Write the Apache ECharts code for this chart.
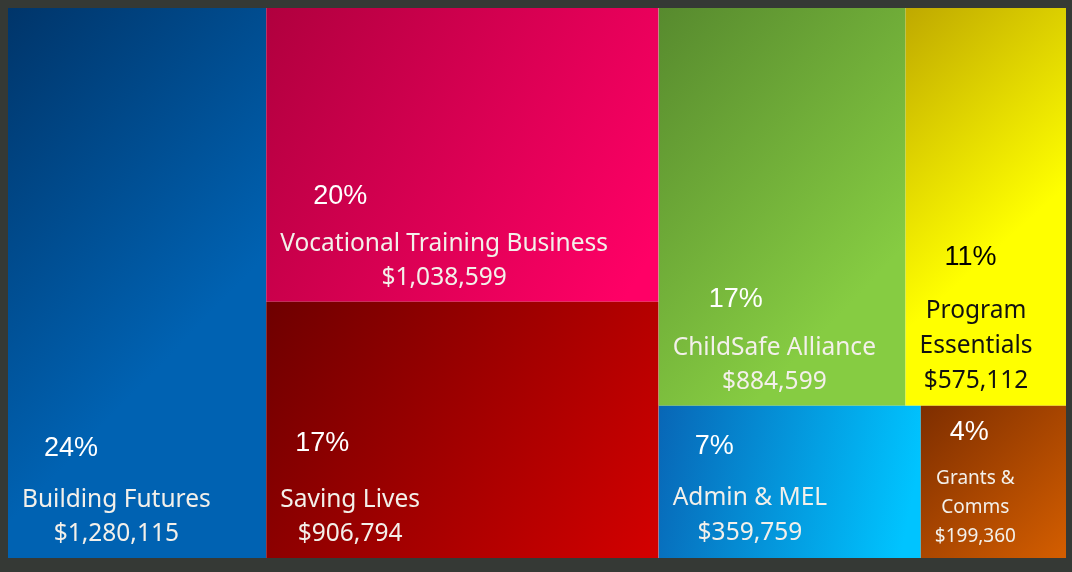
<!DOCTYPE html>
<html><head><meta charset="utf-8">
<script src="https://cdn.jsdelivr.net/npm/echarts@6/dist/echarts.min.js"></script>
<style>html,body{margin:0;padding:0;background:#353935;}#c{width:1072px;height:572px;}</style>
</head><body><div id="c"></div>
<script>
// ---- data ----
const categories = ['Building Futures', 'Vocational Training Business', 'Saving Lives', 'ChildSafe Alliance', 'Program Essentials', 'Admin & MEL', 'Grants & Comms'];
const amounts = [1280115, 1038599, 906794, 884599, 575112, 359759, 199360];
const shareLabels = ['24%', '20%', '17%', '17%', '11%', '7%', '4%'];

// layout grouping (indices into categories)
const blockLeft = [0];
const blockMiddle = [1, 2];
const blockRightTop = [3, 4];
const blockRightBottom = [5, 6];

// ---- styles ----
const fills = [
  ['#00356a', '#0062b2', 1, 0.45],
  ['#b0003e', '#ff0066', 1, 0.8],
  ['#6e0000', '#d40000', 1, 1],
  ['#578a2e', '#86cc42', 1, 0.6],
  ['#bfa900', '#ffff00', 1, 0.45],
  ['#0866b6', '#00c4ff', 1, 0.35],
  ['#7e2e00', '#d45e00', 1, 1]
];
const nameColors = ['#f3f0ea', '#f3f0ea', '#f3f0ea', '#f3f0ea', '#111111', '#f3f0ea', '#f3f0ea'];
const pctColors = ['#ffffff', '#ffffff', '#ffffff', '#ffffff', '#000000', '#ffffff', '#ffffff'];
const nameSizes = [24.5, 24.5, 24.5, 24.5, 24.5, 24.5, 19];
const nameLineHeights = [34, 34, 34, 34, 35, 35, 29];
const wrapAfterWords = [0, 0, 0, 0, 1, 0, 2];
const pctIndent = [22, 33, 15, 36, 25, 22, 15];
const pctLineHeights = [68, 60, 78, 62, 72, 68, 62];
const PCT_SIZE = 27;
const LABEL_DISTANCE = 6;
const LEFT_PAD = 8;
const NAME_FONT = 'Noto Sans';
const PCT_FONT = 'Liberation Sans';

const measureCtx = document.createElement('canvas').getContext('2d');
function textWidth(s, size, fam) {
  measureCtx.font = size + 'px "' + fam + '"';
  return measureCtx.measureText(s).width;
}

function leaf(i, rectHeights) {
  const words = categories[i].split(' ');
  const lines = wrapAfterWords[i] ? [words.slice(0, wrapAfterWords[i]).join(' '), words.slice(wrapAfterWords[i]).join(' ')] : [categories[i]];
  const valueText = '$' + amounts[i].toLocaleString('en-US');
  const allLines = lines.concat([valueText]);
  const widths = allLines.map(s => textWidth(s, nameSizes[i], NAME_FONT));
  const blockW = Math.max.apply(null, widths);
  const blockH = pctLineHeights[i] + nameLineHeights[i] * allLines.length;
  const rich = {
    p: { fontFamily: PCT_FONT, fontSize: PCT_SIZE, color: pctColors[i], lineHeight: pctLineHeights[i], align: 'left', padding: [0, 0, 0, pctIndent[i]] }
  };
  const parts = ['{p|' + shareLabels[i] + '}'];
  allLines.forEach((s, k) => {
    rich['t' + k] = {
      fontFamily: NAME_FONT, fontSize: nameSizes[i], color: nameColors[i],
      lineHeight: nameLineHeights[i], align: 'left',
      padding: [0, 0, 0, (blockW - widths[k]) / 2]
    };
    parts.push('{t' + k + '|' + s + '}');
  });
  const f = fills[i];
  const rh = rectHeights && rectHeights[categories[i]];
  const padTop = rh ? Math.max(0, rh - blockH - 1) : 0;
  return {
    name: categories[i],
    value: amounts[i],
    itemStyle: {
      color: { type: 'linear', x: 0, y: 0, x2: f[2], y2: f[3], colorStops: [{ offset: 0, color: f[0] }, { offset: 1, color: f[1] }] },
      borderWidth: 0
    },
    label: {
      show: true,
      position: 'insideBottomLeft',
      distance: LABEL_DISTANCE,
      padding: [padTop, 0, 0, LEFT_PAD],
      formatter: parts.join('\n'),
      rich: rich
    }
  };
}

function buildTree(rectHeights) {
  const L = i => leaf(i, rectHeights);
  return [
    { name: 'left', children: blockLeft.map(L) },
    { name: 'middle', children: blockMiddle.map(L) },
    { name: 'right', children: [
      { name: 'rightTop', children: blockRightTop.map(L) },
      { name: 'rightBottom', children: blockRightBottom.map(L) }
    ] }
  ];
}

const chart = echarts.init(document.getElementById('c'), null, { renderer: 'canvas' });
const baseSeries = {
  type: 'treemap',
  left: 8, top: 8, width: 1058, height: 550,
  sort: false,
  squareRatio: 1,
  roam: false,
  nodeClick: false,
  breadcrumb: { show: false },
  itemStyle: { borderWidth: 0, gapWidth: 0 },
  upperLabel: { show: false },
  levels: [
    { itemStyle: { borderWidth: 0, gapWidth: 0 } },
    { itemStyle: { borderWidth: 0, gapWidth: 0 } },
    { itemStyle: { borderWidth: 0, gapWidth: 0 } },
    { itemStyle: { borderWidth: 0, gapWidth: 0 } }
  ]
};
chart.setOption({
  backgroundColor: '#353935',
  animation: false,
  series: [Object.assign({}, baseSeries, { data: buildTree(null) })]
});

// read the rectangles ECharts laid out, then push each label block to the bottom of its cell
const rectHeights = {};
try {
  const sd = chart.getModel().getSeriesByIndex(0).getData();
  for (let k = 0; k < sd.count(); k++) {
    const lay = sd.getItemLayout(k);
    if (lay) rectHeights[sd.getName(k)] = lay.height;
  }
} catch (e) {}
chart.setOption({
  series: [Object.assign({}, baseSeries, { data: buildTree(rectHeights) })]
});
</script></body></html>
